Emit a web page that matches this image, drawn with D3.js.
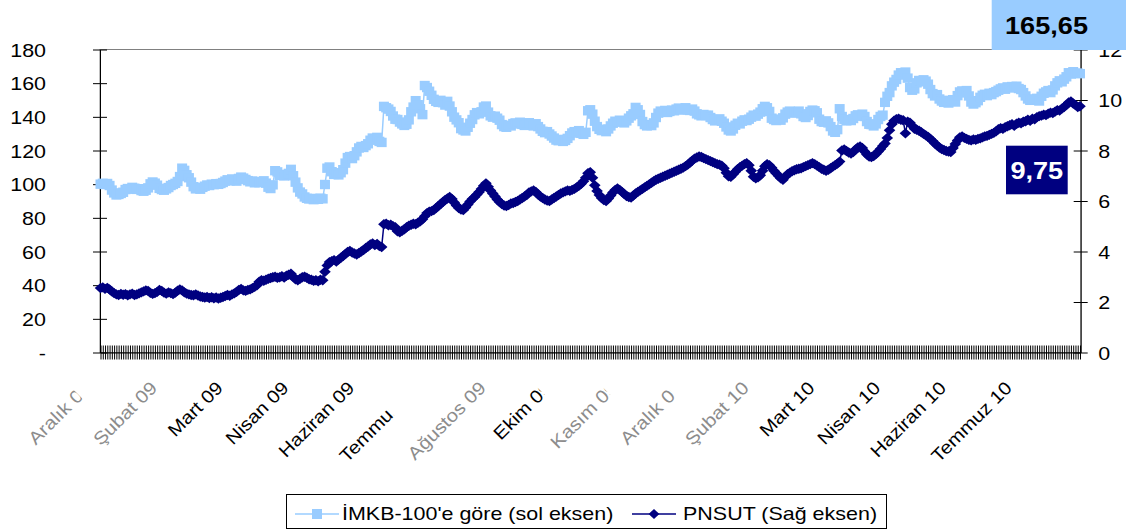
<!DOCTYPE html>
<html>
<head>
<meta charset="utf-8">
<script src="https://cdn.jsdelivr.net/npm/d3@7/dist/d3.min.js"></script>
<style>
  body { margin: 0; background: #fff; }
  svg { display: block; }
  text { font-family: 'Liberation Sans', Arial, sans-serif; }
</style>
</head>
<body>
<script>
/* global d3 */
// IMKB-100 relative performance (left axis), daily
var imkb = [
  100, 100.5, 99.8, 100.4, 99.2,
  96.5, 94.8, 93.6, 93.9, 94.5, 95.2,
  96.8, 97.4, 97.0, 98.1, 97.6, 96.9, 97.3,
  96.2, 95.8, 96.4, 97.8,
  100.2, 101.3, 100.6, 99.4,
  97.5, 96.8, 96.4, 97.2, 98.0,
  99.2, 99.8, 100.5, 101.6, 104.5,
  109.5, 108.2,
  105.6, 103.8, 101.2,
  98.5, 97.2, 97.6, 97.0, 98.1,
  98.8, 99.5, 99.2, 100.0, 99.7, 100.3, 99.9, 100.4, 101.0,
  101.8, 102.6, 102.0, 103.1, 102.5, 101.8,
  103.4, 104.2, 103.6, 102.8, 102.1,
  101.4, 101.9, 100.8, 101.3, 100.9, 101.5, 102.0, 100.6,
  98.2, 97.4, 99.6,
  108.0, 107.3,
  105.2, 105.8, 104.9, 105.6, 106.4,
  108.8,
  105.0, 101.2, 97.8, 95.3, 94.2,
  92.4, 91.6, 91.2, 91.5, 90.8, 91.4, 91.0, 91.7, 91.3,
  99.8,
  109.5, 110.2,
  107.4, 105.8, 106.3, 105.5, 106.8, 108.6,
  112.5, 115.8, 116.4, 115.2, 116.9,
  119.2, 121.5, 122.4, 121.8, 122.9, 124.0,
  126.1, 127.4, 126.6, 127.8,
  125.4, 124.8,
  146.2, 145.4, 144.6, 143.2,
  140.5, 138.6, 138.4, 136.9, 135.8,
  134.9, 135.6, 138.2,
  143.0, 145.8, 149.6, 147.2, 144.8, 141.3,
  158.6, 157.4, 155.2, 152.8,
  150.4, 149.2, 148.6, 149.8, 148.4, 147.0, 149.2, 146.4, 143.0,
  139.8, 138.2, 136.5,
  133.0, 132.2, 131.6, 133.8, 136.2,
  138.4, 141.2, 142.5, 141.8, 143.0, 145.8, 146.4,
  142.8, 140.6, 139.8, 140.4, 139.2, 138.0,
  135.4, 134.2, 133.8, 135.0, 134.6, 136.0,
  136.4, 135.8, 136.8, 135.5, 134.9, 136.2, 136.5, 135.3, 134.6, 135.9, 134.2,
  132.8, 131.4, 130.6, 131.2, 129.8, 128.6,
  127.4, 126.2, 125.8, 126.6, 125.4, 126.0, 127.2, 128.8,
  130.4, 131.2, 130.6, 131.8, 130.2, 129.6, 130.8,
  143.6, 144.2, 141.6,
  137.4, 134.2, 132.6, 131.8, 132.4, 131.2, 132.8, 134.6,
  136.2, 137.4, 136.8, 138.0, 137.2, 136.4, 137.6, 139.2,
  140.6, 141.8, 145.6, 144.2, 141.4,
  137.2, 135.4, 134.6, 135.2, 134.8, 136.4, 139.6,
  142.2, 143.4, 142.8, 143.8, 142.6, 143.2, 144.0, 143.6,
  144.6, 145.2, 144.0, 144.8, 145.4, 144.2, 143.8, 144.6, 143.4,
  141.8, 141.2, 140.6, 141.4, 140.8, 141.0, 139.6,
  138.4, 137.6, 138.2, 138.8, 137.4, 136.2, 134.0,
  132.2, 131.6, 132.8,
  135.0, 136.2, 135.8,
  137.4, 138.2, 137.8, 138.6, 139.8, 141.0, 140.4, 141.6, 142.8,
  144.8, 146.2, 145.4, 143.2,
  139.2, 138.4, 137.8, 138.6, 138.0, 139.4,
  141.6, 142.8, 143.4, 142.2, 143.0, 142.6, 143.4, 141.8,
  140.2, 139.6, 140.8,
  143.2, 144.0, 143.6, 142.4,
  138.6, 137.2, 136.8, 137.6, 136.4, 134.2,
  131.6, 130.8, 132.4,
  144.8,
  140.2, 138.4, 137.6, 138.2, 137.8, 139.0,
  140.6, 141.2, 140.4, 141.6, 140.2,
  137.2, 135.6, 135.4, 134.6, 135.8,
  138.4, 140.2, 141.0,
  148.6, 152.2, 154.4,
  158.4, 160.6, 162.2,
  164.8, 166.2, 165.4, 166.6, 163.0,
  157.4, 155.8, 156.6,
  160.2, 161.6, 160.8, 162.0, 161.2, 159.4,
  156.2, 153.8, 152.4, 153.2, 150.6, 149.4,
  148.6, 149.8, 148.2, 149.4, 150.2, 148.8,
  152.6, 154.8, 155.4, 154.2, 155.6, 152.4,
  148.8, 147.6, 148.4, 149.6,
  151.6, 152.8, 153.4, 152.6, 154.0, 153.2, 154.4,
  155.0, 155.8, 156.6, 157.2, 156.4, 157.8,
  157.2, 158.0, 157.4, 158.2, 156.8, 156.2, 154.4,
  152.4, 150.6, 149.8, 150.4, 150.2, 151.0, 149.4,
  152.2, 154.0, 154.8, 155.6, 154.4, 156.0,
  158.4, 160.2, 161.4, 160.8, 162.4, 163.8,
  166.2, 165.4, 166.8, 165.8, 166.0, 165.65
];

// PNSUT share price (right axis), daily
var pnsut = [
  2.55, 2.58, 2.52, 2.56, 2.50,
  2.42, 2.35, 2.30, 2.28, 2.32, 2.29,
  2.31, 2.27, 2.30, 2.33, 2.28, 2.30, 2.34,
  2.38, 2.42, 2.46, 2.44,
  2.36, 2.32, 2.35, 2.40,
  2.48, 2.44, 2.37, 2.33, 2.38,
  2.35, 2.31, 2.37, 2.45, 2.50,
  2.46, 2.38,
  2.33, 2.30, 2.28,
  2.27, 2.30, 2.26, 2.22, 2.20,
  2.18, 2.20, 2.16, 2.19, 2.15, 2.18, 2.14, 2.17, 2.20,
  2.24, 2.28, 2.25, 2.30, 2.34, 2.40,
  2.48, 2.52, 2.46, 2.44, 2.48,
  2.50, 2.55, 2.60, 2.66, 2.80, 2.86, 2.84, 2.88,
  2.92, 2.95, 2.98,
  3.00, 2.96,
  2.98, 3.02, 2.97, 3.04, 3.08,
  3.12,
  3.00, 2.90, 2.86, 2.92, 2.98,
  3.00, 2.96, 2.90, 2.88, 2.84, 2.86, 2.82, 2.88, 2.86,
  3.20,
  3.45, 3.58,
  3.62, 3.66, 3.60, 3.68, 3.75, 3.82,
  3.90, 3.98, 4.02, 3.96, 3.92,
  3.88, 3.94, 4.00, 4.06, 4.14, 4.20,
  4.28, 4.32, 4.26, 4.30,
  4.22, 4.18,
  5.08, 5.10, 5.04, 5.06,
  5.00, 4.96, 4.80, 4.76, 4.82,
  4.88, 4.96, 5.02,
  5.06, 5.10, 5.08, 5.14, 5.20, 5.28,
  5.40, 5.52, 5.58, 5.60,
  5.64, 5.72, 5.80, 5.88, 5.96, 6.04, 6.10, 6.16, 6.08,
  5.94, 5.82, 5.72,
  5.66, 5.64, 5.74, 5.86, 5.98,
  6.08, 6.16, 6.26, 6.36, 6.48, 6.60, 6.70,
  6.56, 6.42, 6.30, 6.18, 6.06, 5.96,
  5.88, 5.82, 5.80, 5.84, 5.90, 5.92,
  5.96, 6.00, 6.06, 6.12, 6.18, 6.24, 6.34, 6.38, 6.42, 6.36, 6.26,
  6.18, 6.12, 6.06, 6.02, 6.00, 6.06,
  6.12, 6.18, 6.24, 6.30, 6.34, 6.38, 6.42, 6.40,
  6.44, 6.48, 6.54, 6.60, 6.68, 6.78, 6.92,
  7.10, 7.14, 6.92,
  6.62, 6.40, 6.24, 6.12, 6.04, 6.00, 6.10, 6.22,
  6.34, 6.44, 6.50, 6.44, 6.36, 6.28, 6.20, 6.16,
  6.14, 6.22, 6.30, 6.36, 6.42,
  6.48, 6.54, 6.60, 6.66, 6.72, 6.78, 6.84,
  6.88, 6.92, 6.96, 7.00, 7.04, 7.08, 7.12, 7.16,
  7.20, 7.24, 7.28, 7.32, 7.38, 7.44, 7.52, 7.60, 7.68,
  7.72, 7.76, 7.74, 7.70, 7.66, 7.62, 7.58,
  7.54, 7.50, 7.46, 7.44, 7.40, 7.30, 7.12,
  6.98, 6.96, 7.06,
  7.16, 7.26, 7.34,
  7.40, 7.46, 7.50, 7.42, 7.20, 6.96, 6.90, 6.94, 7.02,
  7.20, 7.38, 7.46, 7.42,
  7.32, 7.20, 7.10, 7.00, 6.90, 6.84,
  6.96, 7.06, 7.12, 7.18, 7.22, 7.26, 7.28, 7.30,
  7.34, 7.38, 7.42,
  7.46, 7.50, 7.46, 7.40,
  7.34, 7.28, 7.24, 7.20, 7.24, 7.30,
  7.36, 7.42, 7.48,
  7.56,
  8.00, 8.04, 7.98, 7.92, 7.88, 7.94,
  8.04, 8.12, 8.16, 8.10, 7.96,
  7.84, 7.76, 7.74, 7.78, 7.86,
  7.96, 8.06, 8.18,
  8.28, 8.50, 8.80,
  9.04, 9.18, 9.24,
  9.26, 9.22, 9.20, 8.68, 9.14,
  9.10, 8.98, 8.86,
  8.82, 8.78, 8.72, 8.66, 8.60, 8.54,
  8.46, 8.38, 8.28, 8.20, 8.12, 8.06,
  8.02, 7.98, 7.96, 7.94, 8.10, 8.26,
  8.40, 8.52, 8.56, 8.50, 8.46, 8.42,
  8.40, 8.44, 8.42, 8.46,
  8.48, 8.52, 8.56, 8.58, 8.62, 8.66, 8.70,
  8.76, 8.84, 8.88, 8.86, 8.92, 8.96,
  9.00, 9.04, 8.98, 9.06, 9.10, 9.08, 9.14,
  9.16, 9.22, 9.18, 9.26, 9.24, 9.32, 9.36,
  9.38, 9.42, 9.40, 9.46, 9.50, 9.48,
  9.54, 9.60, 9.58, 9.66, 9.72, 9.80,
  9.90, 9.94, 9.86, 9.80, 9.72, 9.75
];

var monthLabels = ['Aralık 08', 'Şubat 09', 'Mart 09', 'Nisan 09', 'Haziran 09', 'Temmuz 09',
  'Ağustos 09', 'Ekim 09', 'Kasım 09', 'Aralık 09', 'Şubat 10', 'Mart 10', 'Nisan 10',
  'Haziran 10', 'Temmuz 10'];
var labelEvery = 29;

var leftTicks = [0, 20, 40, 60, 80, 100, 120, 140, 160, 180];
var rightTicks = [0, 2, 4, 6, 8, 10, 12];

var seriesNames = ['İMKB-100\'e göre (sol eksen)', 'PNSUT (Sağ eksen)'];

var w = 1126, h = 530;
var plotL = 100, plotR = 1080.7, plotT = 49.5, plotB = 352.5;
var SX = 1.13; // source picture is stretched horizontally
var LIGHT = '#99CCFF', NAVY = '#000080';

// labels drawn lighter in the source, and labels cut short at their end (px along text)
var greyLabels = [0, 1, 6, 8, 9, 10];
var labelTrim = { 0: 14, 5: 38, 7: 10, 8: 10, 9: 11 };

var N = imkb.length;

var svg = d3.select('body').append('svg')
  .attr('width', w)
  .attr('height', h);

var x = d3.scalePoint().domain(d3.range(N)).range([plotL + 0.5, plotR - 0.7]);
var yL = d3.scaleLinear().domain([0, 180]).range([plotB, plotT]);
var yR = d3.scaleLinear().domain([0, 12]).range([plotB, plotT]);

function stretch(px, py) {
  return 'translate(' + px + ',' + py + ') scale(' + SX + ',1)';
}

// plot area border
svg.append('rect')
  .attr('x', plotL)
  .attr('y', plotT)
  .attr('width', plotR - plotL)
  .attr('height', plotB - plotT)
  .attr('fill', 'none')
  .attr('stroke', '#808080');

// x axis with crossing ticks, one per day
var xAxis = svg.append('g')
  .attr('transform', 'translate(0,' + plotB + ')')
  .call(d3.axisBottom(x).tickValues(d3.range(N)).tickSize(7).tickSizeOuter(0).tickFormat(''));
xAxis.selectAll('.tick line').attr('y1', -7).attr('stroke', '#000');
xAxis.select('.domain').attr('stroke', '#000');

// left axis
var axL = svg.append('g')
  .attr('transform', 'translate(' + plotL + ',0)')
  .call(d3.axisLeft(yL).tickValues(leftTicks).tickSize(7).tickSizeOuter(0)
    .tickFormat(function(d) { return d === 0 ? '-' : d; }));
axL.selectAll('.tick line').attr('x1', 7).attr('stroke', '#000');
axL.select('.domain').attr('stroke', '#000');
axL.selectAll('.tick text')
  .attr('x', null).attr('dy', null)
  .attr('transform', stretch(-54, 6.8))
  .attr('text-anchor', 'end')
  .style('font-size', '19px')
  .attr('fill', '#000');

// right axis
var axR = svg.append('g')
  .attr('transform', 'translate(' + plotR + ',0)')
  .call(d3.axisRight(yR).tickValues(rightTicks).tickSize(7).tickSizeOuter(0));
axR.selectAll('.tick line').attr('x1', -7).attr('stroke', '#000');
axR.select('.domain').attr('stroke', '#000');
axR.selectAll('.tick text')
  .attr('x', null).attr('dy', null)
  .attr('transform', stretch(17.5, 6.8))
  .attr('text-anchor', 'start')
  .style('font-size', '19px')
  .attr('fill', '#000');

// month labels, rotated 45 degrees
var defs = svg.append('defs');
var labelIdx = monthLabels.map(function(d, i) { return i * labelEvery; });

monthLabels.forEach(function(m, i) {
  var ax = x(labelIdx[i]) - 8;
  var t = svg.append('text')
    .text(m)
    .attr('transform', 'translate(' + ax + ',389) rotate(-45) scale(' + SX + ',1)')
    .attr('text-anchor', 'end')
    .style('font-size', '18px')
    .attr('fill', greyLabels.indexOf(i) >= 0 ? '#8c8c8c' : '#000');
  if (labelTrim[i] !== undefined) {
    defs.append('clipPath').attr('id', 'clip' + i)
      .append('rect')
      .attr('x', -400).attr('y', -40)
      .attr('width', 400 - labelTrim[i] / SX).attr('height', 80);
    t.attr('clip-path', 'url(#clip' + i + ')');
  }
});

// series
function diamond(rx, ry) {
  return 'M0,' + (-ry) + 'L' + rx + ',0L0,' + ry + 'L' + (-rx) + ',0Z';
}

var lineL = d3.line().x(function(d, i) { return x(i); }).y(function(d) { return yL(d); });
var lineR = d3.line().x(function(d, i) { return x(i); }).y(function(d) { return yR(d); });

svg.append('path')
  .datum(imkb)
  .attr('d', lineL)
  .attr('fill', 'none')
  .attr('stroke', LIGHT)
  .attr('stroke-width', 1.5);

svg.append('g').selectAll('rect')
  .data(imkb)
  .enter()
  .append('rect')
    .attr('x', function(d, i) { return x(i) - 5; })
    .attr('y', function(d) { return yL(d) - 4.7; })
    .attr('width', 10)
    .attr('height', 9.4)
    .attr('fill', LIGHT);

svg.append('path')
  .datum(pnsut)
  .attr('d', lineR)
  .attr('fill', 'none')
  .attr('stroke', NAVY)
  .attr('stroke-width', 1.5);

svg.append('g').selectAll('path')
  .data(pnsut)
  .enter()
  .append('path')
    .attr('d', diamond(5.8, 5.2))
    .attr('transform', function(d, i) { return 'translate(' + x(i) + ',' + yR(d) + ')'; })
    .attr('fill', NAVY);

// last value boxes
function comma(v) { return d3.format('.2f')(v).replace('.', ','); }

svg.append('rect')
  .attr('x', 991.7).attr('y', 0)
  .attr('width', w - 991.7).attr('height', plotT + 0.5)
  .attr('fill', LIGHT);
svg.append('text')
  .text(comma(imkb[N - 1]))
  .attr('transform', stretch(1046.5, 33.5))
  .attr('text-anchor', 'middle')
  .style('font-size', '24px')
  .style('font-weight', 'bold')
  .attr('fill', '#000');

svg.append('rect')
  .attr('x', 1006).attr('y', 145.7)
  .attr('width', 61.7).attr('height', 48.6)
  .attr('fill', NAVY);
svg.append('text')
  .text(comma(pnsut[N - 1]))
  .attr('transform', stretch(1036.8, 178.5))
  .attr('text-anchor', 'middle')
  .style('font-size', '24px')
  .style('font-weight', 'bold')
  .attr('fill', '#fff');

// legend
var legend = svg.append('g');
legend.append('rect')
  .attr('x', 286.5).attr('y', 494.5)
  .attr('width', 600).attr('height', 34)
  .attr('fill', '#fff')
  .attr('stroke', '#000');

var lg = [{ x: 295, color: LIGHT, tx: 342 }, { x: 632, color: NAVY, tx: 683 }];
lg.forEach(function(l, i) {
  legend.append('line')
    .attr('x1', l.x).attr('x2', l.x + 44)
    .attr('y1', 514).attr('y2', 514)
    .attr('stroke', l.color)
    .attr('stroke-width', 1.5);
  if (i === 0) {
    legend.append('rect')
      .attr('x', l.x + 22 - 5).attr('y', 509)
      .attr('width', 10).attr('height', 10)
      .attr('fill', l.color);
  } else {
    legend.append('path')
      .attr('d', diamond(5.4, 5))
      .attr('transform', 'translate(' + (l.x + 22) + ',514)')
      .attr('fill', l.color);
  }
  legend.append('text')
    .text(seriesNames[i])
    .attr('transform', stretch(l.tx, 520))
    .style('font-size', '19px')
    .attr('fill', '#000');
});
</script>
</body>
</html>
